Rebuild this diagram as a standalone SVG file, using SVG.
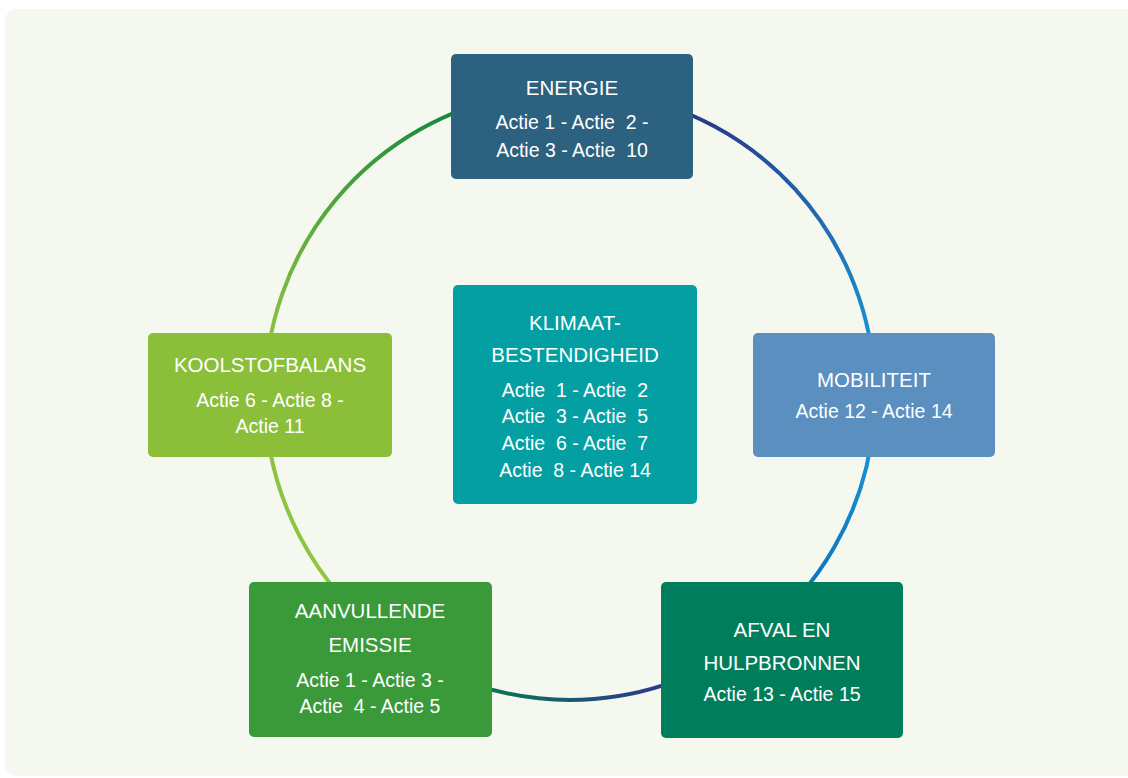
<svg xmlns="http://www.w3.org/2000/svg" width="1128" height="778" viewBox="0 0 1128 778">
  <style>
    .box { stroke: none; }
    .t { font-family: "Liberation Sans", Arial, sans-serif; font-size: 19.5px; fill: #ffffff; text-anchor: middle; }
    .h { font-size: 20.5px; }
    .arc { fill: none; stroke-width: 4; stroke-linecap: butt; }
  </style>
  <defs>
    <linearGradient id="g1" gradientUnits="userSpaceOnUse" x1="693" y1="116" x2="868" y2="333">
      <stop offset="0" stop-color="#28388a"/>
      <stop offset="1" stop-color="#1a8fd2"/>
    </linearGradient>
    <linearGradient id="g2" gradientUnits="userSpaceOnUse" x1="868" y1="457" x2="811" y2="582">
      <stop offset="0" stop-color="#1a8fd3"/>
      <stop offset="1" stop-color="#0d74c2"/>
    </linearGradient>
    <linearGradient id="g3" gradientUnits="userSpaceOnUse" x1="661" y1="686" x2="492" y2="690">
      <stop offset="0" stop-color="#2b3a8e"/>
      <stop offset="1" stop-color="#0a7456"/>
    </linearGradient>
    <linearGradient id="g4" gradientUnits="userSpaceOnUse" x1="329" y1="582" x2="271" y2="457">
      <stop offset="0" stop-color="#8dc63f"/>
      <stop offset="1" stop-color="#8cc241"/>
    </linearGradient>
    <linearGradient id="g5" gradientUnits="userSpaceOnUse" x1="271" y1="333" x2="451" y2="114">
      <stop offset="0" stop-color="#8cc140"/>
      <stop offset="1" stop-color="#138a3c"/>
    </linearGradient>
  </defs>

  <rect id="background" x="5" y="9" width="1140" height="767" rx="12" ry="12" fill="#f5f8ee"/>

  <g id="connectors">
    <path class="arc" stroke="url(#g1)" d="M623,94.6 A305,305 0 0 1 873.8,368.4"/>
    <path class="arc" stroke="url(#g2)" d="M873.8,421.6 A305,305 0 0 1 744.9,644.8"/>
    <path class="arc" stroke="url(#g3)" d="M744.9,644.8 A305,305 0 0 1 395.1,644.8"/>
    <path class="arc" stroke="url(#g4)" d="M395.1,644.8 A305,305 0 0 1 265,395"/>
    <path class="arc" stroke="url(#g5)" d="M265,395 A305,305 0 0 1 517,94.6"/>
  </g>

  <g id="energie">
    <rect class="box" x="451" y="54" width="242" height="125" rx="5" fill="#2c6180"/>
    <text class="t h" x="572" y="95">ENERGIE</text>
    <text class="t" x="572" y="129" xml:space="preserve">Actie 1 - Actie  2 -</text>
    <text class="t" x="572" y="157" xml:space="preserve">Actie 3 - Actie  10</text>
  </g>

  <g id="klimaat">
    <rect class="box" x="453" y="285" width="244" height="219" rx="5" fill="#049fa3"/>
    <text class="t h" x="575" y="330">KLIMAAT-</text>
    <text class="t h" x="575" y="362">BESTENDIGHEID</text>
    <text class="t" x="575" y="397" xml:space="preserve">Actie  1 - Actie  2</text>
    <text class="t" x="575" y="423" xml:space="preserve">Actie  3 - Actie  5</text>
    <text class="t" x="575" y="450" xml:space="preserve">Actie  6 - Actie  7</text>
    <text class="t" x="575" y="477" xml:space="preserve">Actie  8 - Actie 14</text>
  </g>

  <g id="mobiliteit">
    <rect class="box" x="753" y="333" width="242" height="124" rx="5" fill="#5b8fbf"/>
    <text class="t h" x="874" y="387">MOBILITEIT</text>
    <text class="t" x="874" y="418">Actie 12 - Actie 14</text>
  </g>

  <g id="koolstofbalans">
    <rect class="box" x="148" y="333" width="244" height="124" rx="5" fill="#8bbf3a"/>
    <text class="t h" x="270" y="372">KOOLSTOFBALANS</text>
    <text class="t" x="270" y="407">Actie 6 - Actie 8 -</text>
    <text class="t" x="270" y="433">Actie 11</text>
  </g>

  <g id="aanvullende-emissie">
    <rect class="box" x="249" y="582" width="243" height="155" rx="5" fill="#3a9a3a"/>
    <text class="t h" x="370" y="618">AANVULLENDE</text>
    <text class="t h" x="370" y="652">EMISSIE</text>
    <text class="t" x="370" y="687">Actie 1 - Actie 3 -</text>
    <text class="t" x="370" y="713" xml:space="preserve">Actie  4 - Actie 5</text>
  </g>

  <g id="afval">
    <rect class="box" x="661" y="582" width="242" height="156" rx="5" fill="#007e5c"/>
    <text class="t h" x="782" y="637">AFVAL EN</text>
    <text class="t h" x="782" y="670">HULPBRONNEN</text>
    <text class="t" x="782" y="701">Actie 13 - Actie 15</text>
  </g>
</svg>
